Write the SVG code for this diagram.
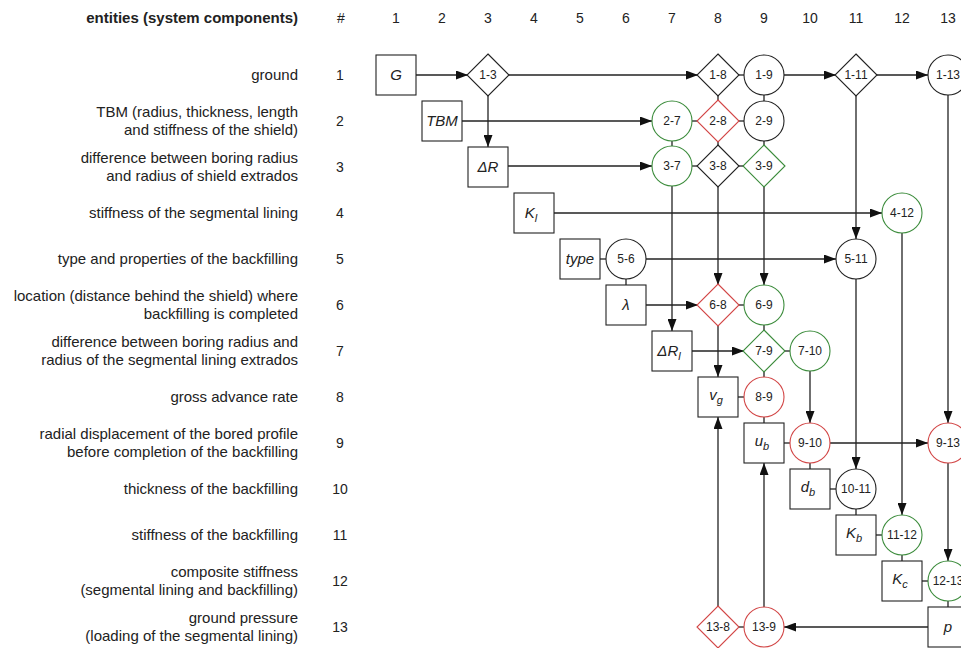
<svg xmlns="http://www.w3.org/2000/svg" width="961" height="648" viewBox="0 0 961 648">
<defs>
<marker id="arr" markerUnits="userSpaceOnUse" markerWidth="12" markerHeight="9" refX="12" refY="4.5" orient="auto">
<path d="M0,0 L12,4.5 L0,9 z" fill="#111"/>
</marker>
<style>
.lbl{font-family:"Liberation Sans",Arial,sans-serif;font-size:15px;fill:#222;text-anchor:end}
.num{font-family:"Liberation Sans",Arial,sans-serif;font-size:14px;fill:#222;text-anchor:middle}
.hd{font-family:"Liberation Sans",Arial,sans-serif;font-size:15px;font-weight:bold;fill:#222}
.nt{font-family:"Liberation Sans",Arial,sans-serif;font-size:12px;fill:#222;text-anchor:middle}
.bt{font-family:"Liberation Sans",Arial,sans-serif;font-size:15px;font-style:italic;fill:#222;text-anchor:middle}
.sub{font-size:11px}
.bx{fill:#fff;stroke:#222;stroke-width:1.1}
.k{fill:#fff;stroke:#222;stroke-width:1.1}
.g{fill:#fff;stroke:#3c8c3c;stroke-width:1.1}
.r{fill:#fff;stroke:#d24646;stroke-width:1.1}
.c{stroke:#222;stroke-width:1.3;fill:none}
.a{stroke:#222;stroke-width:1.3;fill:none;marker-end:url(#arr)}
</style>
</defs>
<rect width="961" height="648" fill="#fff"/>

<g id="headers">
<text class="hd" x="298" y="23" text-anchor="end">entities (system components)</text>
<text class="num" x="341" y="23">#</text>
<text class="num" x="396" y="23">1</text>
<text class="num" x="442" y="23">2</text>
<text class="num" x="488" y="23">3</text>
<text class="num" x="534" y="23">4</text>
<text class="num" x="580" y="23">5</text>
<text class="num" x="626" y="23">6</text>
<text class="num" x="672" y="23">7</text>
<text class="num" x="718" y="23">8</text>
<text class="num" x="764" y="23">9</text>
<text class="num" x="810" y="23">10</text>
<text class="num" x="856" y="23">11</text>
<text class="num" x="902" y="23">12</text>
<text class="num" x="948" y="23">13</text>
</g>

<g id="row-labels">
<text class="lbl" x="298" y="80">ground</text>
<text class="lbl" x="298" y="117">TBM (radius, thickness, length</text>
<text class="lbl" x="298" y="135">and stiffness of the shield)</text>
<text class="lbl" x="298" y="163">difference between boring radius</text>
<text class="lbl" x="298" y="181">and radius of shield extrados</text>
<text class="lbl" x="298" y="218">stiffness of the segmental lining</text>
<text class="lbl" x="298" y="264">type and properties of the backfilling</text>
<text class="lbl" x="298" y="301">location (distance behind the shield) where</text>
<text class="lbl" x="298" y="319">backfilling is completed</text>
<text class="lbl" x="298" y="347">difference between boring radius and</text>
<text class="lbl" x="298" y="365">radius of the segmental lining extrados</text>
<text class="lbl" x="298" y="402">gross advance rate</text>
<text class="lbl" x="298" y="439">radial displacement of the bored profile</text>
<text class="lbl" x="298" y="457">before completion of the backfilling</text>
<text class="lbl" x="298" y="494">thickness of the backfilling</text>
<text class="lbl" x="298" y="540">stiffness of the backfilling</text>
<text class="lbl" x="298" y="577">composite stiffness</text>
<text class="lbl" x="298" y="595">(segmental lining and backfilling)</text>
<text class="lbl" x="298" y="623">ground pressure</text>
<text class="lbl" x="298" y="641">(loading of the segmental lining)</text>
<text class="num" x="340" y="80">1</text>
<text class="num" x="340" y="126">2</text>
<text class="num" x="340" y="172">3</text>
<text class="num" x="340" y="218">4</text>
<text class="num" x="340" y="264">5</text>
<text class="num" x="340" y="310">6</text>
<text class="num" x="340" y="356">7</text>
<text class="num" x="340" y="402">8</text>
<text class="num" x="340" y="448">9</text>
<text class="num" x="340" y="494">10</text>
<text class="num" x="340" y="540">11</text>
<text class="num" x="340" y="586">12</text>
<text class="num" x="340" y="632">13</text>
</g>

<g id="connectors">
<line class="a" x1="416" y1="75" x2="468" y2="75"/>
<line class="a" x1="508" y1="75" x2="698" y2="75"/>
<line class="a" x1="784" y1="75" x2="836" y2="75"/>
<line class="a" x1="876" y1="75" x2="928" y2="75"/>
<line class="a" x1="462" y1="121" x2="652" y2="121"/>
<line class="a" x1="508" y1="166" x2="652" y2="166"/>
<line class="a" x1="554" y1="213" x2="882" y2="213"/>
<line class="a" x1="646" y1="259" x2="836" y2="259"/>
<line class="a" x1="646" y1="305" x2="698" y2="305"/>
<line class="a" x1="692" y1="351" x2="744" y2="351"/>
<line class="a" x1="830" y1="443" x2="928" y2="443"/>
<line class="a" x1="928" y1="627" x2="784" y2="627"/>
<line class="a" x1="488" y1="95" x2="488" y2="147"/>
<line class="a" x1="856" y1="95" x2="856" y2="239"/>
<line class="a" x1="948" y1="95" x2="948" y2="423"/>
<line class="a" x1="672" y1="186" x2="672" y2="331"/>
<line class="a" x1="718" y1="186" x2="718" y2="285"/>
<line class="a" x1="764" y1="186" x2="764" y2="285"/>
<line class="a" x1="902" y1="233" x2="902" y2="515"/>
<line class="a" x1="856" y1="279" x2="856" y2="469"/>
<line class="a" x1="718" y1="325" x2="718" y2="377"/>
<line class="a" x1="810" y1="371" x2="810" y2="423"/>
<line class="a" x1="948" y1="463" x2="948" y2="561"/>
<line class="a" x1="718" y1="607" x2="718" y2="417"/>
<line class="a" x1="764" y1="607" x2="764" y2="463"/>
<line class="c" x1="738" y1="75" x2="744" y2="75"/>
<line class="c" x1="718" y1="95" x2="718" y2="101"/>
<line class="c" x1="764" y1="95" x2="764" y2="101"/>
<line class="c" x1="692" y1="121" x2="698" y2="121"/>
<line class="c" x1="738" y1="121" x2="744" y2="121"/>
<line class="c" x1="672" y1="141" x2="672" y2="146"/>
<line class="c" x1="718" y1="141" x2="718" y2="146"/>
<line class="c" x1="764" y1="141" x2="764" y2="146"/>
<line class="c" x1="692" y1="166" x2="698" y2="166"/>
<line class="c" x1="738" y1="166" x2="744" y2="166"/>
<line class="c" x1="600" y1="259" x2="606" y2="259"/>
<line class="c" x1="626" y1="279" x2="626" y2="285"/>
<line class="c" x1="738" y1="305" x2="744" y2="305"/>
<line class="c" x1="764" y1="325" x2="764" y2="331"/>
<line class="c" x1="784" y1="351" x2="790" y2="351"/>
<line class="c" x1="764" y1="371" x2="764" y2="377"/>
<line class="c" x1="738" y1="397" x2="744" y2="397"/>
<line class="c" x1="764" y1="417" x2="764" y2="423"/>
<line class="c" x1="784" y1="443" x2="790" y2="443"/>
<line class="c" x1="810" y1="463" x2="810" y2="469"/>
<line class="c" x1="830" y1="489" x2="836" y2="489"/>
<line class="c" x1="856" y1="509" x2="856" y2="515"/>
<line class="c" x1="876" y1="535" x2="882" y2="535"/>
<line class="c" x1="902" y1="555" x2="902" y2="561"/>
<line class="c" x1="922" y1="581" x2="928" y2="581"/>
<line class="c" x1="948" y1="601" x2="948" y2="607"/>
<line class="c" x1="738" y1="627" x2="744" y2="627"/>
</g>

<g id="n-G"><rect class="bx" x="376" y="55" width="40" height="40"/><text class="bt" x="396" y="80">G</text></g>
<g id="n-TBM"><rect class="bx" x="422" y="101" width="40" height="40"/><text class="bt" x="442" y="126">TBM</text></g>
<g id="n-dR"><rect class="bx" x="468" y="147" width="40" height="40"/><text class="bt" x="488" y="172">ΔR</text></g>
<g id="n-Kl"><rect class="bx" x="514" y="193" width="40" height="40"/><text class="bt" x="531" y="218">K<tspan class="sub" dy="4">l</tspan></text></g>
<g id="n-type"><rect class="bx" x="560" y="239" width="40" height="40"/><text class="bt" x="580" y="264">type</text></g>
<g id="n-lambda"><rect class="bx" x="606" y="285" width="40" height="40"/><text class="bt" x="626" y="310">λ</text></g>
<g id="n-dRl"><rect class="bx" x="652" y="331" width="40" height="40"/><text class="bt" x="669" y="356">ΔR<tspan class="sub" dy="4">l</tspan></text></g>
<g id="n-vg"><rect class="bx" x="698" y="377" width="40" height="40"/><text class="bt" x="716" y="400">v<tspan class="sub" dy="4">g</tspan></text></g>
<g id="n-ub"><rect class="bx" x="744" y="423" width="40" height="40"/><text class="bt" x="762" y="446">u<tspan class="sub" dy="4">b</tspan></text></g>
<g id="n-db"><rect class="bx" x="790" y="469" width="40" height="40"/><text class="bt" x="808" y="492">d<tspan class="sub" dy="4">b</tspan></text></g>
<g id="n-Kb"><rect class="bx" x="836" y="515" width="40" height="40"/><text class="bt" x="854" y="538">K<tspan class="sub" dy="4">b</tspan></text></g>
<g id="n-Kc"><rect class="bx" x="882" y="561" width="40" height="40"/><text class="bt" x="900" y="584">K<tspan class="sub" dy="4">c</tspan></text></g>
<g id="n-p"><rect class="bx" x="928" y="607" width="40" height="40"/><text class="bt" x="948" y="632">p</text></g>

<g id="n-1-3"><path class="k" d="M488,54 L509,75 L488,96 L467,75 z"/><text class="nt" x="488" y="79">1-3</text></g>
<g id="n-1-8"><path class="k" d="M718,54 L739,75 L718,96 L697,75 z"/><text class="nt" x="718" y="79">1-8</text></g>
<g id="n-1-9"><circle class="k" cx="764" cy="75" r="20"/><text class="nt" x="764" y="79">1-9</text></g>
<g id="n-1-11"><path class="k" d="M856,54 L877,75 L856,96 L835,75 z"/><text class="nt" x="856" y="79">1-11</text></g>
<g id="n-1-13"><circle class="k" cx="948" cy="75" r="20"/><text class="nt" x="948" y="79">1-13</text></g>
<g id="n-2-7"><circle class="g" cx="672" cy="121" r="20"/><text class="nt" x="672" y="125">2-7</text></g>
<g id="n-2-8"><path class="r" d="M718,100 L739,121 L718,142 L697,121 z"/><text class="nt" x="718" y="125">2-8</text></g>
<g id="n-2-9"><circle class="k" cx="764" cy="121" r="20"/><text class="nt" x="764" y="125">2-9</text></g>
<g id="n-3-7"><circle class="g" cx="672" cy="166" r="20"/><text class="nt" x="672" y="170">3-7</text></g>
<g id="n-3-8"><path class="k" d="M718,145 L739,166 L718,187 L697,166 z"/><text class="nt" x="718" y="170">3-8</text></g>
<g id="n-3-9"><path class="g" d="M764,145 L785,166 L764,187 L743,166 z"/><text class="nt" x="764" y="170">3-9</text></g>
<g id="n-4-12"><circle class="g" cx="902" cy="213" r="20"/><text class="nt" x="902" y="217">4-12</text></g>
<g id="n-5-6"><circle class="k" cx="626" cy="259" r="20"/><text class="nt" x="626" y="263">5-6</text></g>
<g id="n-5-11"><circle class="k" cx="856" cy="259" r="20"/><text class="nt" x="856" y="263">5-11</text></g>
<g id="n-6-8"><path class="r" d="M718,284 L739,305 L718,326 L697,305 z"/><text class="nt" x="718" y="309">6-8</text></g>
<g id="n-6-9"><circle class="g" cx="764" cy="305" r="20"/><text class="nt" x="764" y="309">6-9</text></g>
<g id="n-7-9"><path class="g" d="M764,330 L785,351 L764,372 L743,351 z"/><text class="nt" x="764" y="355">7-9</text></g>
<g id="n-7-10"><circle class="g" cx="810" cy="351" r="20"/><text class="nt" x="810" y="355">7-10</text></g>
<g id="n-8-9"><circle class="r" cx="764" cy="397" r="20"/><text class="nt" x="764" y="401">8-9</text></g>
<g id="n-9-10"><circle class="r" cx="810" cy="443" r="20"/><text class="nt" x="810" y="447">9-10</text></g>
<g id="n-9-13"><circle class="r" cx="948" cy="443" r="20"/><text class="nt" x="948" y="447">9-13</text></g>
<g id="n-10-11"><circle class="k" cx="856" cy="489" r="20"/><text class="nt" x="856" y="493">10-11</text></g>
<g id="n-11-12"><circle class="g" cx="902" cy="535" r="20"/><text class="nt" x="902" y="539">11-12</text></g>
<g id="n-12-13"><circle class="g" cx="948" cy="581" r="20"/><text class="nt" x="948" y="585">12-13</text></g>
<g id="n-13-8"><path class="r" d="M718,606 L739,627 L718,648 L697,627 z"/><text class="nt" x="718" y="631">13-8</text></g>
<g id="n-13-9"><circle class="r" cx="764" cy="627" r="20"/><text class="nt" x="764" y="631">13-9</text></g>
</svg>
